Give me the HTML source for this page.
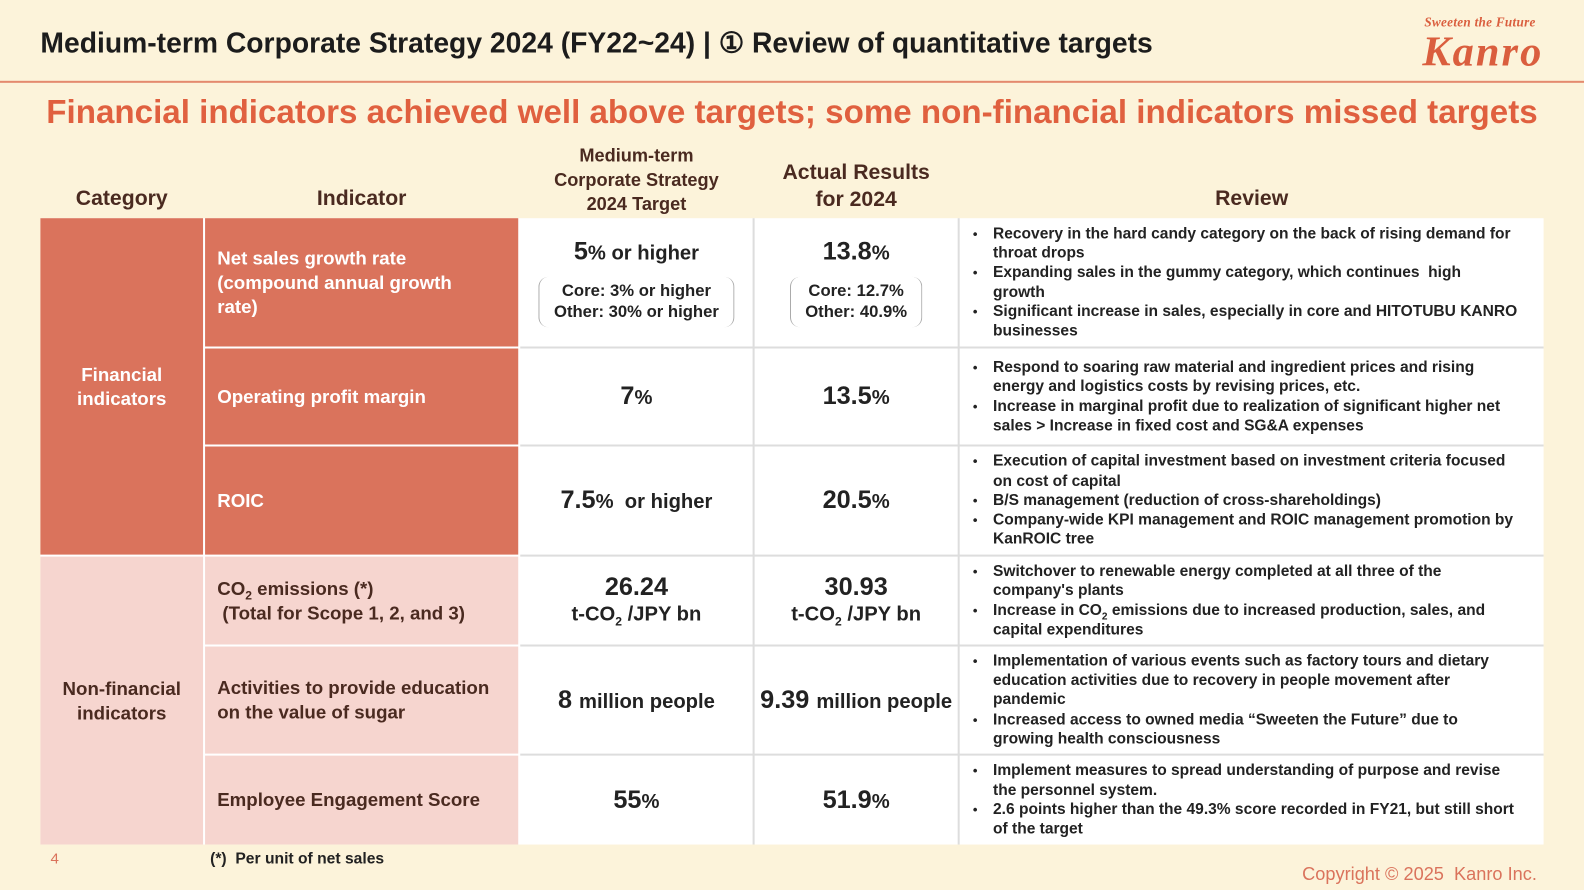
<!DOCTYPE html>
<html><head><meta charset="utf-8"><style>
*{margin:0;padding:0;box-sizing:border-box}
body{width:1584px;height:890px;background:#FCF3DA;font-family:"Liberation Sans",sans-serif;position:relative;overflow:hidden;color:#222}
#w{position:absolute;left:0;top:0;width:1568px;height:881px;transform:scale(1.0102);transform-origin:0 0}
.a{position:absolute}
.title{left:40px;top:26px;font-size:28px;font-weight:bold;color:#1c1c1c;white-space:nowrap}
.hr{left:0;top:80px;width:1568px;height:2px;background:#E48A6E}
.sub{left:0;width:1568px;text-align:center;top:92px;font-size:32.8px;font-weight:bold;color:#E0603F;white-space:nowrap}
.hd{font-weight:bold;color:#4a2a20;text-align:center;font-size:21px}
.cell{position:absolute;display:flex;align-items:center}
.or{background:#DA735C;color:#fff;font-weight:bold}
.pk{background:#F6D5CF;color:#4a2a20;font-weight:bold}
.wh{background:#fff}
.ind{font-size:18.5px;line-height:24px;padding-left:12px}
.val{justify-content:center;text-align:center;font-weight:bold;font-size:25px;color:#222;flex-direction:column}
.val small{font-size:20px}
.rev{font-size:15.4px;font-weight:bold;line-height:19.3px;padding-left:33px;padding-right:22px}
.rev ul{list-style:none}
.rev li{position:relative}
.rev li:before{content:"•";position:absolute;left:-20px;font-size:13px}
sub{line-height:0}
.br{border-left:1.5px solid #aaa;border-right:1.5px solid #aaa;border-radius:10px;font-size:16.5px;line-height:21px;padding:4px 14px;margin-top:10px}
</style></head><body><div id="w">
<div class="a title">Medium-term Corporate Strategy 2024 (FY22~24) | ① Review of quantitative targets</div>
<div class="a" style="left:1410px;top:14px;font-size:13px;font-style:italic;font-weight:bold;color:#DA5E3E;font-family:'Liberation Serif',serif;letter-spacing:0.3px">Sweeten the Future</div>
<div class="a" style="left:1408px;top:28px;font-size:42px;font-style:italic;font-weight:bold;color:#DA5E3E;font-family:'Liberation Serif',serif;letter-spacing:2px">Kanro</div>
<div class="a hr"></div>
<div class="a sub">Financial indicators achieved well above targets; some non-financial indicators missed targets</div>

<div class="a hd" style="left:40px;width:161px;top:185px">Category</div>
<div class="a hd" style="left:203px;width:310px;top:185px">Indicator</div>
<div class="a hd" style="left:515px;width:230px;top:142px;font-size:18px;line-height:24px">Medium-term<br>Corporate Strategy<br>2024 Target</div>
<div class="a hd" style="left:747px;width:201px;top:157px;line-height:27px">Actual Results<br>for 2024</div>
<div class="a hd" style="left:950px;width:578px;top:185px">Review</div>

<div class="a wh" style="left:40px;top:216px;width:1488px;height:620px"></div>
<div class="cell or" style="left:40px;top:216px;width:161px;height:333px;justify-content:center;text-align:center;font-size:18.5px;line-height:24px">Financial<br>indicators</div>
<div class="cell pk" style="left:40px;top:551px;width:161px;height:285px;justify-content:center;text-align:center;font-size:18.5px;line-height:24px">Non-financial<br>indicators</div>

<div class="cell or ind" style="left:203px;top:216px;width:310px;height:127px"><div>Net sales growth rate<br>(compound annual growth<br>rate)</div></div>
<div class="cell or ind" style="left:203px;top:345px;width:310px;height:95px"><div>Operating profit margin</div></div>
<div class="cell or ind" style="left:203px;top:442px;width:310px;height:107px"><div>ROIC</div></div>
<div class="cell pk ind" style="left:203px;top:551px;width:310px;height:87px"><div>CO<sub style="font-size:12px">2</sub> emissions (*)<br>&nbsp;(Total for Scope 1, 2, and 3)</div></div>
<div class="cell pk ind" style="left:203px;top:640px;width:310px;height:106px"><div>Activities to provide education<br>on the value of sugar</div></div>
<div class="cell pk ind" style="left:203px;top:748px;width:310px;height:88px"><div>Employee Engagement Score</div></div>

<div class="a" style="left:515px;top:343px;width:1013px;height:2px;background:#ddd"></div>
<div class="a" style="left:515px;top:440px;width:1013px;height:2px;background:#ddd"></div>
<div class="a" style="left:515px;top:549px;width:1013px;height:2px;background:#ddd"></div>
<div class="a" style="left:515px;top:638px;width:1013px;height:2px;background:#ddd"></div>
<div class="a" style="left:515px;top:746px;width:1013px;height:2px;background:#ddd"></div>
<div class="a" style="left:745px;top:216px;width:2px;height:620px;background:#ddd"></div>
<div class="a" style="left:948px;top:216px;width:2px;height:620px;background:#ddd"></div>

<div class="cell val" style="left:515px;top:216px;width:230px;height:127px"><div>5<small>% or higher</small></div><div class="br">Core: 3% or higher<br>Other: 30% or higher</div></div>
<div class="cell val" style="left:747px;top:216px;width:201px;height:127px"><div>13.8<small>%</small></div><div class="br">Core: 12.7%<br>Other: 40.9%</div></div>
<div class="cell val" style="left:515px;top:345px;width:230px;height:95px"><div>7<small>%</small></div></div>
<div class="cell val" style="left:747px;top:345px;width:201px;height:95px"><div>13.5<small>%</small></div></div>
<div class="cell val" style="left:515px;top:442px;width:230px;height:107px"><div>7.5<small>%&nbsp; or higher</small></div></div>
<div class="cell val" style="left:747px;top:442px;width:201px;height:107px"><div>20.5<small>%</small></div></div>
<div class="cell val" style="left:515px;top:551px;width:230px;height:87px;line-height:27px"><div>26.24</div><div style="font-size:20px">t-CO<sub style="font-size:12px">2</sub> /JPY bn</div></div>
<div class="cell val" style="left:747px;top:551px;width:201px;height:87px;line-height:27px"><div>30.93</div><div style="font-size:20px">t-CO<sub style="font-size:12px">2</sub> /JPY bn</div></div>
<div class="cell val" style="left:515px;top:640px;width:230px;height:106px"><div>8 <small>million people</small></div></div>
<div class="cell val" style="left:747px;top:640px;width:201px;height:106px"><div style="white-space:nowrap">9.39 <small>million people</small></div></div>
<div class="cell val" style="left:515px;top:748px;width:230px;height:88px"><div>55<small>%</small></div></div>
<div class="cell val" style="left:747px;top:748px;width:201px;height:88px"><div>51.9<small>%</small></div></div>

<div class="cell rev" style="left:950px;top:216px;width:578px;height:127px"><ul><li>Recovery in the hard candy category on the back of rising demand for throat drops</li><li>Expanding sales in the gummy category, which continues&nbsp; high<br>growth</li><li>Significant increase in sales, especially in core and HITOTUBU KANRO businesses</li></ul></div>
<div class="cell rev" style="left:950px;top:345px;width:578px;height:95px"><ul><li>Respond to soaring raw material and ingredient prices and rising energy and logistics costs by revising prices, etc.</li><li>Increase in marginal profit due to realization of significant higher net sales &gt; Increase in fixed cost and SG&amp;A expenses</li></ul></div>
<div class="cell rev" style="left:950px;top:442px;width:578px;height:107px"><ul><li>Execution of capital investment based on investment criteria focused on cost of capital</li><li>B/S management (reduction of cross-shareholdings)</li><li>Company-wide KPI management and ROIC management promotion by KanROIC tree</li></ul></div>
<div class="cell rev" style="left:950px;top:551px;width:578px;height:87px"><ul><li>Switchover to renewable energy completed at all three of the company's plants</li><li>Increase in CO<sub style="font-size:10px">2</sub> emissions due to increased production, sales, and capital expenditures</li></ul></div>
<div class="cell rev" style="left:950px;top:640px;width:578px;height:106px"><ul><li>Implementation of various events such as factory tours and dietary education activities due to recovery in people movement after pandemic</li><li>Increased access to owned media “Sweeten the Future” due to growing health consciousness</li></ul></div>
<div class="cell rev" style="left:950px;top:748px;width:578px;height:88px"><ul><li>Implement measures to spread understanding of purpose and revise the personnel system.</li><li>2.6 points higher than the 49.3% score recorded in FY21, but still short of the target</li></ul></div>

<div class="a" style="left:50px;top:842px;font-size:15px;color:#DA735C">4</div>
<div class="a" style="left:208px;top:842px;font-size:15.5px;font-weight:bold">(*)&nbsp; Per unit of net sales</div>
<div class="a" style="left:1289px;top:855px;font-size:18px;color:#DA735C">Copyright © 2025&nbsp; Kanro Inc.</div>
</div></body></html>
